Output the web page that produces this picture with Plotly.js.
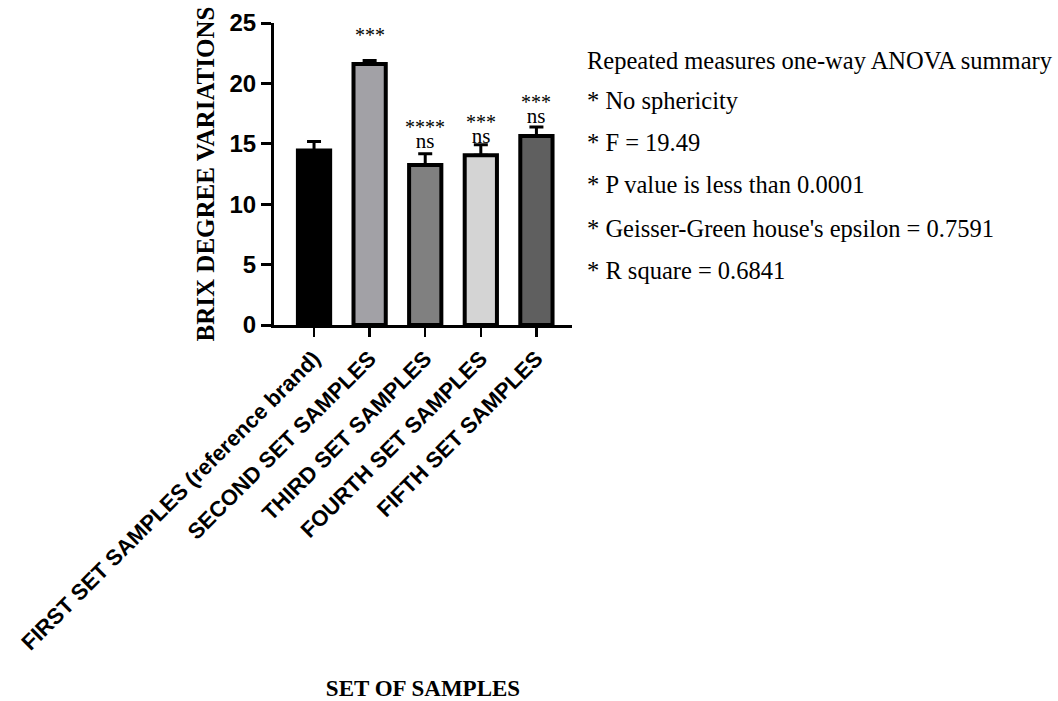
<!DOCTYPE html>
<html>
<head>
<meta charset="utf-8">
<script src="https://cdn.plot.ly/plotly-3.0.1.min.js"></script>
<style>html,body{margin:0;padding:0;background:#fff;}#chart{width:1058px;height:701px;}</style>
</head>
<body>
<div id="chart"></div>
<script>
// ---- data ----
var categories = ["FIRST SET SAMPLES (reference brand)", "SECOND SET SAMPLES", "THIRD SET SAMPLES", "FOURTH SET SAMPLES", "FIFTH SET SAMPLES"];
var means = [14.45, 21.6, 13.25, 14.05, 15.65];
var errors = [0.75, 0.3, 0.92, 0.88, 0.75];
var starLabels = ["", "***", "****", "***", "***"];
var nsLabels = ["", "", "ns", "ns", "ns"];
var sigY = [null, 24.0, 15.75, 16.15, 17.85];
var barColors = ["#000000", "#A2A1A6", "#808080", "#D4D4D4", "#5F5F5F"];
var yTicks = [0, 5, 10, 15, 20, 25];
var summaryLines = [
  "Repeated measures one-way ANOVA summary",
  "* No sphericity",
  "* F = 19.49",
  "* P value is less than 0.0001",
  "* Geisser-Green house's epsilon = 0.7591",
  "* R square = 0.6841"
];

var serif = "Liberation Serif, Times New Roman, serif";
var sans = "Liberation Sans, Arial, sans-serif";

var trace = {
  type: "bar",
  x: categories,
  y: means,
  width: 0.58,
  marker: {color: barColors, line: {color: "#000", width: 4}},
  error_y: {type: "data", symmetric: false, array: errors, arrayminus: errors.map(function(){return 0;}), color: "#000", thickness: 3, width: 7},
  hoverinfo: "none"
};

var annotations = [];
for (var i = 0; i < categories.length; i++) {
  if (!starLabels[i]) continue;
  var txt = '<span style="font-size:20px">' + starLabels[i] + '</span>';
  if (nsLabels[i]) txt += '<br><span style="font-size:21px">' + nsLabels[i] + '</span>';
  annotations.push({xref: "x", yref: "y", x: categories[i], y: sigY[i], text: txt, showarrow: false, yanchor: "middle", font: {family: serif, size: 11, color: "#000"}});
}
var lineYs = [0.877, 0.742, 0.603, 0.464, 0.321, 0.182];
summaryLines.forEach(function(t, k) {
  annotations.push({xref: "paper", yref: "paper", x: 1.043, y: lineYs[k], xanchor: "left", yanchor: "middle", text: t, showarrow: false, font: {family: serif, size: 24.5, color: "#000"}});
});

var layout = {
  width: 1058, height: 701,
  margin: {l: 274, r: 486, t: 23, b: 376},
  paper_bgcolor: "#fff", plot_bgcolor: "#fff",
  showlegend: false,
  xaxis: {
    type: "category",
    range: [-0.72, 4.64],
    showline: true, linecolor: "#000", linewidth: 3,
    ticks: "outside", ticklen: 9, tickwidth: 2.5, tickcolor: "#000",
    tickangle: -45,
    tickfont: {family: sans, size: 22, color: "#000", weight: "bold"},
    showgrid: false, zeroline: false,
    automargin: false,
    title: {text: "<b>SET OF SAMPLES</b>", font: {family: serif, size: 23, color: "#000"}, standoff: 27}
  },
  yaxis: {
    range: [0, 25],
    tickvals: yTicks,
    showline: true, linecolor: "#000", linewidth: 3,
    ticks: "outside", ticklen: 10, tickwidth: 3, tickcolor: "#000",
    tickfont: {family: sans, size: 24, color: "#000", weight: "bold"},
    showgrid: false, zeroline: false,
    automargin: false,
    title: {text: "<b>BRIX DEGREE VARIATIONS</b>", font: {family: serif, size: 25, color: "#000"}, standoff: 8}
  },
  annotations: annotations
};

Plotly.newPlot("chart", [trace], layout, {displayModeBar: false, staticPlot: true});
</script>
</body>
</html>
